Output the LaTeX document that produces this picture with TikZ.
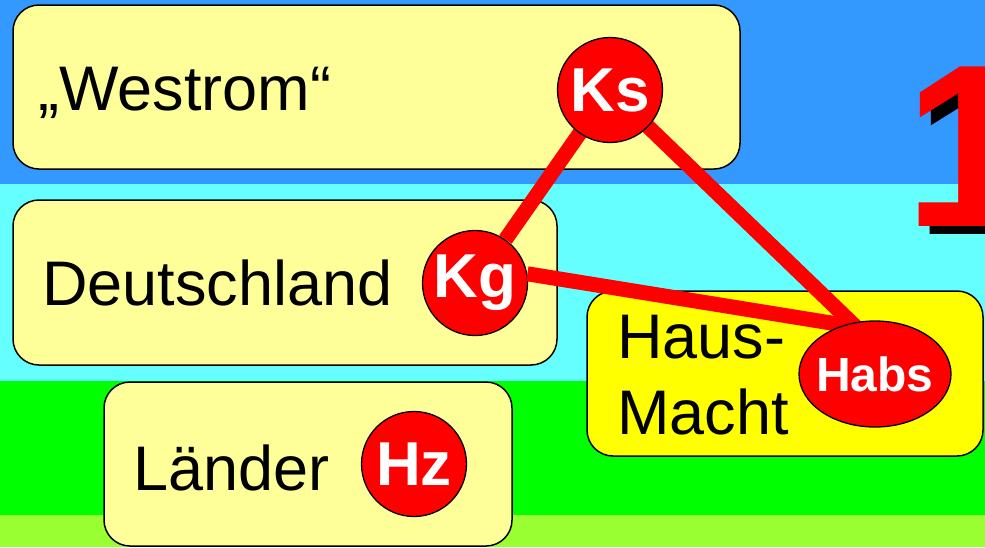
\documentclass[tikz,border=0pt]{standalone}
\usepackage{fontspec}
\setmainfont{Liberation Sans}
\usetikzlibrary{shapes.geometric}
\definecolor{bandblue}{RGB}{51,153,255}
\definecolor{bandcyan}{RGB}{102,255,255}
\definecolor{bandgreen}{RGB}{0,255,0}
\definecolor{bandlime}{RGB}{153,255,51}
\definecolor{paleyellow}{RGB}{255,255,153}
\definecolor{hausyellow}{RGB}{255,255,0}
\definecolor{mred}{RGB}{255,0,0}
\tikzset{
  levelbox/.style={draw=black, line width=1.5pt, rounded corners=26pt, fill=paleyellow},
  bigtext/.style={font=\fontsize{63}{75}\selectfont, anchor=base west, inner sep=0pt, text=black},
  ruler/.style={circle, draw=black, line width=1.3pt, fill=mred, inner sep=0pt, minimum size=105pt, text=white, font=\fontsize{62}{62}\selectfont\bfseries},
  rulerell/.style={ellipse, draw=black, line width=1.3pt, fill=mred, inner sep=0pt, minimum width=152pt, minimum height=106pt, text=white, font=\fontsize{48}{48}\selectfont\bfseries},
  link/.style={draw=mred, line width=15pt}
}
\begin{document}
\begin{tikzpicture}[x=1pt,y=-1pt]
\useasboundingbox (0,0) rectangle (985,547);
% background bands
\fill[bandblue] (0,0) rectangle (985,184);
\fill[bandcyan] (0,184) rectangle (985,381);
\fill[bandgreen] (0,381) rectangle (985,515);
\fill[bandlime] (0,515) rectangle (985,547);
% big number with shadow
\node[anchor=base east, inner sep=0pt, text=black, font=\fontsize{232}{232}\selectfont\bfseries] (numshadow) at (1045,234) {1};
\node[anchor=base east, inner sep=0pt, text=mred, font=\fontsize{232}{232}\selectfont\bfseries] (num) at (1034,226) {1};
% boxes
\draw[levelbox] (13,5) rectangle (740,169);
\draw[levelbox] (13,200) rectangle (557,365);
\draw[levelbox] (104,382) rectangle (512,546);
\draw[levelbox, fill=hausyellow] (587,291) rectangle (983,456);
% texts
\node[bigtext] (westrom) at (38,110) {„Westrom“};
\node[bigtext] (deutsch) at (42,305) {Deutschland};
\node[bigtext] (laender) at (133,490) {Länder};
\node[bigtext] (haus) at (617,358) {Haus-};
\node[bigtext] (macht) at (617,434) {Macht};
% rulers and links
\coordinate (ksc) at (610,90);
\coordinate (habsc) at (875,374);
\coordinate (habstop) at (856,327);
\node[ruler] (Kg) at (475,283) {Kg};
\draw[link] (ksc) -- (Kg);
\draw[link] (ksc) -- (habstop);
\draw[link] (Kg.10) -- (habstop);
\node[ruler] (Ks) at (ksc) {Ks};
\node[rulerell] (Habs) at (habsc) {\makebox[0pt]{Habs}};
\node[ruler] (Hz) at (414,464) {Hz};
\end{tikzpicture}
\end{document}
